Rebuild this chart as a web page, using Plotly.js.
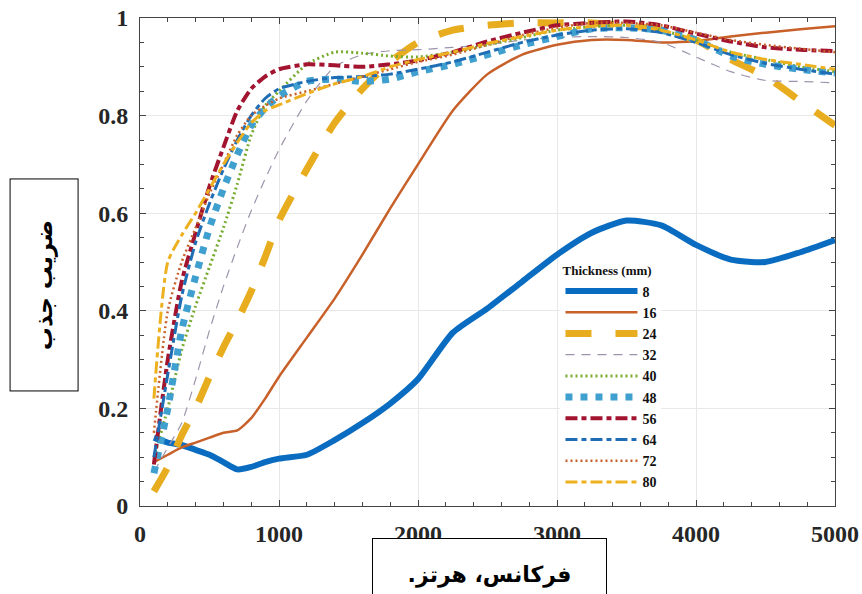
<!DOCTYPE html>
<html>
<head>
<meta charset="utf-8">
<script src="https://cdn.plot.ly/plotly-3.0.1.min.js"></script>
<style>html,body{margin:0;padding:0;background:#fff;}#chart{width:862px;height:594px;}</style>
</head>
<body>
<div id="chart"></div>
<script>
const freq = [100, 200, 300, 400, 500, 600, 700, 800, 900, 1000, 1200, 1400, 1600, 1800, 2000, 2250, 2500, 2750, 3000, 3250, 3500, 3750, 4000, 4250, 4500, 4750, 5000];

const t8  = [0.14, 0.13, 0.125, 0.115, 0.105, 0.09, 0.075, 0.08, 0.09, 0.097, 0.105, 0.135, 0.17, 0.21, 0.26, 0.355, 0.405, 0.46, 0.515, 0.56, 0.585, 0.575, 0.535, 0.505, 0.5, 0.52, 0.545];
const t16 = [0.09, 0.105, 0.12, 0.13, 0.14, 0.15, 0.155, 0.18, 0.22, 0.265, 0.345, 0.425, 0.515, 0.61, 0.7, 0.81, 0.885, 0.925, 0.945, 0.955, 0.955, 0.95, 0.953, 0.962, 0.97, 0.977, 0.983];
const t24 = [0.03, 0.08, 0.145, 0.2, 0.265, 0.325, 0.38, 0.44, 0.51, 0.585, 0.69, 0.785, 0.855, 0.91, 0.95, 0.975, 0.985, 0.99, 0.99, 0.99, 0.985, 0.975, 0.955, 0.915, 0.88, 0.83, 0.78];
const t32 = [0.07, 0.12, 0.17, 0.26, 0.36, 0.45, 0.53, 0.605, 0.67, 0.73, 0.83, 0.9, 0.925, 0.933, 0.935, 0.94, 0.945, 0.955, 0.96, 0.962, 0.96, 0.95, 0.92, 0.89, 0.872, 0.87, 0.867];
const t40 = [0.1, 0.2, 0.32, 0.41, 0.49, 0.57, 0.66, 0.76, 0.82, 0.85, 0.905, 0.93, 0.928, 0.922, 0.92, 0.93, 0.945, 0.96, 0.975, 0.982, 0.985, 0.975, 0.955, 0.93, 0.915, 0.9, 0.89];
const t48 = [0.067, 0.2, 0.36, 0.47, 0.57, 0.65, 0.72, 0.78, 0.815, 0.84, 0.87, 0.875, 0.87, 0.875, 0.89, 0.905, 0.925, 0.945, 0.962, 0.978, 0.98, 0.975, 0.955, 0.922, 0.905, 0.895, 0.887];
const t56 = [0.085, 0.3, 0.46, 0.56, 0.655, 0.735, 0.81, 0.855, 0.88, 0.895, 0.905, 0.903, 0.9, 0.905, 0.913, 0.93, 0.952, 0.97, 0.985, 0.99, 0.993, 0.985, 0.968, 0.952, 0.94, 0.935, 0.932];
const t64 = [0.1, 0.27, 0.43, 0.54, 0.62, 0.69, 0.75, 0.8, 0.835, 0.855, 0.87, 0.878, 0.88, 0.885, 0.895, 0.91, 0.93, 0.95, 0.965, 0.975, 0.978, 0.97, 0.95, 0.925, 0.907, 0.895, 0.885];
const t72 = [0.15, 0.4, 0.5, 0.57, 0.64, 0.7, 0.76, 0.8, 0.82, 0.835, 0.85, 0.865, 0.88, 0.895, 0.91, 0.925, 0.945, 0.965, 0.98, 0.99, 0.99, 0.985, 0.97, 0.955, 0.945, 0.937, 0.93];
const t80 = [0.22, 0.5, 0.555, 0.6, 0.65, 0.7, 0.745, 0.785, 0.81, 0.822, 0.845, 0.865, 0.88, 0.9, 0.915, 0.93, 0.948, 0.962, 0.975, 0.983, 0.985, 0.975, 0.955, 0.93, 0.915, 0.905, 0.895];

const names = ['8', '16', '24', '32', '40', '48', '56', '64', '72', '80'];
const values = [t8, t16, t24, t32, t40, t48, t56, t64, t72, t80];
const xTickVals = [0, 1000, 2000, 3000, 4000, 5000];
const yTickVals = [0, 0.2, 0.4, 0.6, 0.8, 1];
const legendTitle = 'Thickness (mm)';
const xTitle = 'فرکانس، هرتز.';
const yTitle = 'ضریب جذب';

const styles = [
  {color: '#0a6cc0', width: 6, dash: 'solid'},
  {color: '#c8602a', width: 2.5, dash: 'solid'},
  {color: '#e8ad1e', width: 7, dash: '26px,24px'},
  {color: '#9d94ab', width: 1.2, dash: '9px,7px'},
  {color: '#77ac30', width: 3, dash: '2px,3px'},
  {color: '#3fa0d0', width: 7, dash: '7px,8px'},
  {color: '#a2142f', width: 4, dash: '12px,4px,5px,4px'},
  {color: '#1f6db5', width: 3, dash: '12px,4px,5px,4px'},
  {color: '#c8602a', width: 2.5, dash: '2px,3px'},
  {color: '#edb120', width: 3, dash: '12px,4px,5px,4px'}
];

const traces = names.map((n, i) => ({
  type: 'scatter', mode: 'lines', name: n,
  x: freq, y: values[i],
  line: Object.assign({shape: 'spline', smoothing: 0.6}, styles[i])
}));

const tickFont = {family: 'Liberation Serif', size: 24, color: '#262626', weight: 'bold'};

const layout = {
  width: 862, height: 594,
  margin: {l: 140, r: 27, t: 18, b: 88},
  paper_bgcolor: '#fff', plot_bgcolor: '#fff',
  showlegend: true,
  xaxis: {
    range: [0, 5000], tickvals: xTickVals, ticks: 'inside', ticklen: 6, tickcolor: '#444',
    showline: true, linecolor: '#444', linewidth: 1, mirror: 'ticks',
    showgrid: true, gridcolor: '#e8e8e8', zeroline: false,
    tickfont: tickFont, ticklabelstandoff: 6,
    minor: {dtick: 200, ticks: 'inside', ticklen: 4, tickcolor: '#444', showgrid: false}
  },
  yaxis: {
    range: [0, 1], tickvals: yTickVals, ticks: 'inside', ticklen: 6, tickcolor: '#444',
    showline: true, linecolor: '#444', linewidth: 1, mirror: 'ticks',
    showgrid: true, gridcolor: '#e8e8e8', zeroline: false,
    tickfont: tickFont, ticklabelstandoff: 6,
    minor: {dtick: 0.05, ticks: 'inside', ticklen: 4, tickcolor: '#444', showgrid: false}
  },
  legend: {
    x: 0.605, y: 0.507, xanchor: 'left', yanchor: 'top',
    bgcolor: '#fff', borderwidth: 0,
    font: {family: 'Liberation Serif', size: 14, color: '#111', weight: 'bold'},
    title: {text: legendTitle, font: {family: 'Liberation Serif', size: 13, color: '#111', weight: 'bold'}},
    itemwidth: 72, tracegroupgap: 0
  },
  annotations: [
    {
      xref: 'paper', yref: 'paper', x: -0.1374, y: 0.453, xanchor: 'center', yanchor: 'middle',
      text: yTitle, showarrow: false, textangle: -90,
      font: {family: 'DejaVu Sans', size: 23, color: '#000', weight: 'bold'},
      width: 211, height: 67, bordercolor: '#000', borderwidth: 1, borderpad: 0, bgcolor: '#fff'
    },
    {
      xref: 'paper', yref: 'paper', x: 0.503, y: -0.141, xanchor: 'center', yanchor: 'middle',
      text: xTitle + '\u200F', showarrow: false,
      font: {family: 'DejaVu Sans', size: 22, color: '#000', weight: 'bold'},
      width: 233, height: 72, bordercolor: '#000', borderwidth: 1, borderpad: 0, bgcolor: '#fff'
    }
  ]
};

Plotly.newPlot('chart', traces, layout, {displayModeBar: false, staticPlot: true});
</script>
</body>
</html>
